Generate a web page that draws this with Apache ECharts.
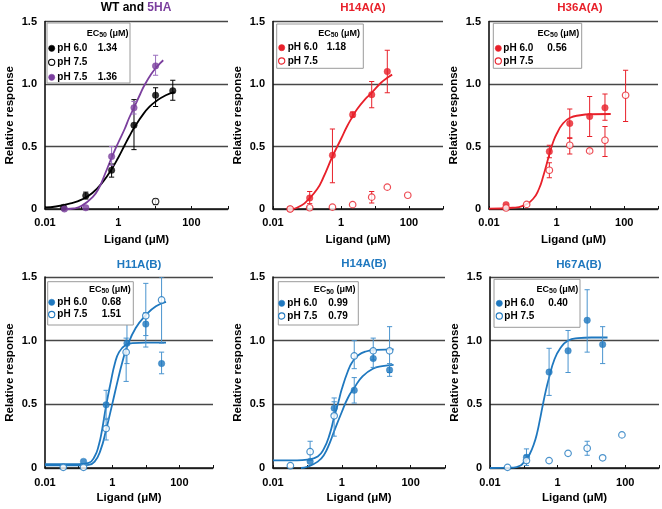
<!DOCTYPE html>
<html><head><meta charset="utf-8">
<script src="https://cdn.jsdelivr.net/npm/echarts@6/dist/echarts.min.js"></script>
<style>html,body{margin:0;padding:0;background:#fff}#c{width:662px;height:509px}</style>
</head><body><div id="c"></div>
<script>
// ---------- tick labels ----------
const xTickLabels = {'-2':'0.01','0':'1','2':'100'};
const yTicks = [0, 0.5, 1.0, 1.5];
const titles = ['WT and 5HA','H14A(A)','H36A(A)','H11A(B)','H14A(B)','H67A(B)'];
const legendLabels = ['pH 6.0','pH 7.5'];

// ---------- Panel 1: WT and 5HA ----------
const wt60 = [[0.032,0.013],[0.13,0.107],[0.66,0.31],[2.7,0.67],[10.5,0.91],[31,0.946]];
const wt60Err = [[0.13,0.08,0.135],[0.66,0.255,0.36],[2.7,0.475,0.875],[10.5,0.82,0.97],[31,0.87,1.03]];
const wt75 = [[10.5,0.06]];
const wt75Err = [[10.5,0.035,0.08]];
const ha75 = [[0.034,0.0],[0.13,0.01],[0.66,0.42],[2.7,0.81],[10.5,1.145]];
const ha75Err = [[0.66,0.35,0.5],[2.7,0.76,0.86],[10.5,1.07,1.23]];
const wt60Fit = [[0.01,0.012],[0.02,0.02],[0.05,0.045],[0.1,0.075],[0.2,0.13],[0.4,0.225],[0.7,0.33],[1,0.41],[1.5,0.51],[2,0.58],[3,0.67],[5,0.765],[7,0.815],[10,0.855],[20,0.91],[35,0.935]];
const ha75Fit = [[0.028,0.004],[0.04,0.0],[0.06,0.004],[0.1,0.025],[0.2,0.095],[0.3,0.17],[0.45,0.29],[0.66,0.41],[1,0.53],[1.5,0.64],[2,0.73],[2.7,0.81],[4,0.92],[5,0.98],[8,1.08],[12,1.145],[17,1.19]];
const ec50P1 = ['1.34','','1.36'];

// ---------- Panel 2: H14A(A) ----------
const h14a60 = [[0.032,0.0],[0.12,0.088],[0.56,0.43],[2.2,0.755],[8,0.915],[23,1.1]];
const h14a60Err = [[0.12,0.043,0.14],[0.56,0.21,0.64],[2.2,0.736,0.776],[8,0.81,1.02],[23,0.93,1.27]];
const h14a75 = [[0.032,0.0],[0.12,0.01],[0.56,0.015],[2.2,0.035],[8,0.095],[23,0.175],[92,0.11]];
const h14a75Err = [[8,0.048,0.14]];
const h14a60Fit = [[0.04,0.0],[0.07,0.03],[0.1,0.065],[0.2,0.16],[0.3,0.25],[0.56,0.42],[1,0.56],[1.5,0.66],[2.2,0.74],[3,0.8],[5,0.875],[8,0.93],[15,1.01],[23,1.05],[32,1.075]];
const ec50P2 = ['1.18',''];

// ---------- Panel 3: H36A(A) ----------
const h36a60 = [[0.032,0.035],[0.61,0.46],[2.45,0.685],[9.5,0.74],[27,0.81]];
const h36a60Err = [[0.61,0.41,0.51],[2.45,0.565,0.8],[9.5,0.58,0.9],[27,0.71,0.92]];
const h36a75 = [[0.032,0.008],[0.13,0.037],[0.61,0.31],[2.45,0.51],[9.5,0.465],[27,0.55],[110,0.91]];
const h36a75Err = [[0.61,0.25,0.37],[2.45,0.44,0.57],[9.5,0.45,0.48],[27,0.42,0.66],[110,0.7,1.11]];
const h36a60Fit = [[0.01,0.003],[0.05,0.01],[0.1,0.025],[0.2,0.08],[0.3,0.16],[0.4,0.26],[0.6,0.43],[0.8,0.54],[1,0.6],[1.5,0.68],[2.5,0.73],[5,0.75],[10,0.758],[40,0.76]];
const ec50P3 = ['0.56',''];

// ---------- Panel 4: H11A(B) ----------
const h11b60 = [[0.14,0.052],[0.66,0.496],[2.75,0.98],[10,1.13],[29.5,0.82]];
const h11b60Err = [[0.66,0.39,0.61],[2.75,0.82,1.14],[10,1.04,1.22],[29.5,0.74,0.91]];
const h11b75 = [[0.035,0.005],[0.14,0.005],[0.66,0.31],[2.6,0.91],[10,1.195],[29.5,1.32]];
const h11b75Err = [[0.66,0.22,0.38],[2.6,0.68,1.02],[10,0.95,1.45],[29.5,0.98,1.5]];
const h11b60Fit = [[0.01,0.03],[0.1,0.03],[0.2,0.04],[0.3,0.09],[0.4,0.18],[0.5,0.3],[0.66,0.49],[0.9,0.67],[1.2,0.82],[1.6,0.91],[2.5,0.965],[4,0.98],[10,0.985],[40,0.985]];
const h11b75Fit = [[0.01,0.02],[0.1,0.02],[0.2,0.025],[0.3,0.05],[0.45,0.14],[0.66,0.3],[1,0.5],[1.5,0.7],[2,0.83],[2.75,0.95],[5,1.1],[10,1.2],[20,1.27],[40,1.305]];
const ec50P4 = ['0.68','1.51'];

// ---------- Panel 5: H14A(B) ----------
const h14b60 = [[0.12,0.052],[0.6,0.47],[2.3,0.61],[8.2,0.86],[24.5,0.77]];
const h14b60Err = [[0.6,0.42,0.52],[2.3,0.51,0.71],[8.2,0.79,0.92],[24.5,0.72,0.82]];
const h14b75 = [[0.032,0.018],[0.12,0.128],[0.6,0.41],[2.3,0.88],[8.2,0.92],[24.5,0.92]];
const h14b75Err = [[0.12,0.06,0.21],[0.6,0.25,0.55],[2.3,0.78,1.0],[8.2,0.85,1.02],[24.5,0.75,1.11]];
const h14b60Fit = [[0.065,0.0],[0.1,0.01],[0.2,0.05],[0.3,0.1],[0.45,0.2],[0.6,0.29],[1,0.44],[1.5,0.55],[2.3,0.63],[4,0.72],[8,0.78],[15,0.8],[32,0.81]];
const h14b75Fit = [[0.01,0.06],[0.05,0.06],[0.1,0.065],[0.2,0.09],[0.3,0.15],[0.45,0.27],[0.6,0.4],[0.8,0.52],[1,0.62],[1.5,0.76],[2,0.83],[3,0.885],[5,0.915],[10,0.928],[32,0.932]];
const ec50P5 = ['0.99','0.79'];

// ---------- Panel 6: H67A(B) ----------
const h67b60 = [[0.12,0.084],[0.56,0.753],[2.04,0.92],[7.5,1.16],[21.5,0.97]];
const h67b60Err = [[0.12,0.04,0.15],[0.56,0.57,0.94],[2.04,0.75,1.08],[7.5,0.91,1.4],[21.5,0.82,1.11]];
const h67b75 = [[0.033,0.005],[0.12,0.058],[0.56,0.058],[2.04,0.115],[7.5,0.155],[21.5,0.08],[80,0.26]];
const h67b75Err = [[0.12,0.02,0.1],[7.5,0.1,0.21]];
const h67b60Fit = [[0.01,0.0],[0.05,0.003],[0.08,0.02],[0.1,0.045],[0.12,0.07],[0.15,0.11],[0.2,0.19],[0.25,0.28],[0.3,0.38],[0.35,0.47],[0.45,0.61],[0.56,0.71],[0.8,0.85],[1.2,0.94],[2,1.0],[4,1.02],[10,1.025],[30,1.025]];
const ec50P6 = ['0.40',''];

// ---------- styling ----------
const FONT = 'Arial, "Liberation Sans", sans-serif';
const BLACK = '#000000', PURPLE = '#7b3f9e', RED = '#e8202a', BLUE = '#1f78bf';
const PURPLE_ERR = '#9a6fbf', RED_ERR = '#e8202a', BLUE_ERR = '#4a94cf', BLACK_ERR = '#000';

const panels = [
  { grid:{left:45,top:21.5,width:183,height:187.5}, title:{x:136,y:7.5,rich:true},
    fits:[{d:wt60Fit,c:BLACK},{d:ha75Fit,c:PURPLE}],
    errs:[{d:wt60Err,c:BLACK_ERR},{d:wt75Err,c:BLACK_ERR},{d:ha75Err,c:PURPLE_ERR}],
    pts:[{d:wt60,c:BLACK,open:false},{d:wt75,c:BLACK,open:true},{d:ha75,c:PURPLE,open:false}],
    box:{x:47,y:23,w:83,h:60, hx:128.5, hy:33.3, mx:51.7, tx:57.3, vx:97.7,
         rows:[{y:48.3,c:BLACK,open:false,l:legendLabels[0],v:ec50P1[0]},
               {y:62.3,c:BLACK,open:true,l:legendLabels[1],v:ec50P1[1]},
               {y:77.3,c:PURPLE,open:false,l:legendLabels[1],v:ec50P1[2]}]} },
  { grid:{left:273,top:21.5,width:170,height:187.5}, title:{x:363,y:7.5,c:RED},
    fits:[{d:h14a60Fit,c:RED}],
    errs:[{d:h14a60Err,c:RED_ERR},{d:h14a75Err,c:RED_ERR}],
    pts:[{d:h14a60,c:RED,open:false},{d:h14a75,c:RED,open:true}],
    box:{x:276.7,y:24,w:86.6,h:44.3, hx:360, hy:33.3, mx:281.7, tx:287.7, vx:326.7,
         rows:[{y:47.7,c:RED,open:false,l:legendLabels[0],v:ec50P2[0]},
               {y:61,c:RED,open:true,l:legendLabels[1],v:ec50P2[1]}]} },
  { grid:{left:489,top:21.5,width:169,height:187.5}, title:{x:580,y:7.5,c:RED},
    fits:[{d:h36a60Fit,c:RED}],
    errs:[{d:h36a60Err,c:RED_ERR},{d:h36a75Err,c:RED_ERR}],
    pts:[{d:h36a60,c:RED,open:false},{d:h36a75,c:RED,open:true}],
    box:{x:493.3,y:23.3,w:88.4,h:45, hx:579.3, hy:33.3, mx:498.3, tx:503.3, vx:547.3,
         rows:[{y:48.3,c:RED,open:false,l:legendLabels[0],v:ec50P3[0]},
               {y:61,c:RED,open:true,l:legendLabels[1],v:ec50P3[1]}]} },
  { grid:{left:45,top:277,width:168,height:191}, title:{x:139,y:265,c:BLUE},
    fits:[{d:h11b60Fit,c:BLUE},{d:h11b75Fit,c:BLUE}],
    errs:[{d:h11b60Err,c:BLUE_ERR},{d:h11b75Err,c:BLUE_ERR}],
    pts:[{d:h11b60,c:BLUE,open:false},{d:h11b75,c:BLUE,open:true}],
    box:{x:47.7,y:281.7,w:85.6,h:43.3, hx:130.7, hy:289.3, mx:51.7, tx:57.3, vx:101.7,
         rows:[{y:302.3,c:BLUE,open:false,l:legendLabels[0],v:ec50P4[0]},
               {y:314.5,c:BLUE,open:true,l:legendLabels[1],v:ec50P4[1]}]} },
  { grid:{left:273,top:277,width:172,height:191}, title:{x:364,y:264,c:BLUE},
    fits:[{d:h14b60Fit,c:BLUE},{d:h14b75Fit,c:BLUE}],
    errs:[{d:h14b60Err,c:BLUE_ERR},{d:h14b75Err,c:BLUE_ERR}],
    pts:[{d:h14b60,c:BLUE,open:false},{d:h14b75,c:BLUE,open:true}],
    box:{x:278.3,y:281.7,w:80,h:43.3, hx:355.5, hy:290, mx:281.7, tx:287.3, vx:328.3,
         rows:[{y:303.3,c:BLUE,open:false,l:legendLabels[0],v:ec50P5[0]},
               {y:316,c:BLUE,open:true,l:legendLabels[1],v:ec50P5[1]}]} },
  { grid:{left:490,top:277,width:170,height:191}, title:{x:579,y:265,c:BLUE},
    fits:[{d:h67b60Fit,c:BLUE}],
    errs:[{d:h67b60Err,c:BLUE_ERR},{d:h67b75Err,c:BLUE_ERR}],
    pts:[{d:h67b60,c:BLUE,open:false},{d:h67b75,c:BLUE,open:true}],
    box:{x:494,y:279.3,w:86,h:48, hx:578.3, hy:289.3, mx:499.3, tx:504.3, vx:548.3,
         rows:[{y:303.3,c:BLUE,open:false,l:legendLabels[0],v:ec50P6[0]},
               {y:316,c:BLUE,open:true,l:legendLabels[1],v:ec50P6[1]}]} }
];

function renderErr(params, api){
  const x = api.value(0), lo = api.value(1), hi = api.value(2);
  const p1 = api.coord([x, lo]), p2 = api.coord([x, hi]);
  const w = 2.6;
  const style = {stroke: api.visual('color'), lineWidth: 1};
  return {type:'group', children:[
    {type:'line', shape:{x1:p1[0],y1:p1[1],x2:p2[0],y2:p2[1]}, style:style},
    {type:'line', shape:{x1:p1[0]-w,y1:p1[1],x2:p1[0]+w,y2:p1[1]}, style:style},
    {type:'line', shape:{x1:p2[0]-w,y1:p2[1],x2:p2[0]+w,y2:p2[1]}, style:style}
  ]};
}

const grid = [], xAxis = [], yAxis = [], series = [], graphic = [];
panels.forEach(function(p, i){
  grid.push(p.grid);
  xAxis.push({
    type:'log', logBase:10, min:0.01, max:1000, gridIndex:i, splitNumber:5,
    axisLine:{show:true, lineStyle:{color:'#111', width:1.5}},
    axisTick:{show:true, inside:true, length:3, lineStyle:{color:'#111', width:1}},
    splitLine:{show:false}, minorTick:{show:false},
    axisLabel:{margin: i<3 ? 8 : 9, color:'#000', fontFamily:FONT, fontWeight:'bold', fontSize:11,
      formatter:function(v){ const e = Math.round(Math.log10(v)); return xTickLabels[String(e)] || ''; }},
    name:'Ligand (μM)', nameLocation:'middle', nameGap: i<3 ? 25 : 24,
    nameTextStyle:{color:'#000', fontFamily:FONT, fontWeight:'bold', fontSize:11.5}
  });
  yAxis.push({
    type:'value', min:0, max:1.5, interval:0.5, gridIndex:i,
    axisLine:{show:true, lineStyle:{color:'#111', width:1.6}},
    axisTick:{show:false},
    splitLine:{show:true, lineStyle:{color:'#474747', width:1.3}},
    axisLabel:{margin:8, color:'#000', fontFamily:FONT, fontWeight:'bold', fontSize:11,
      formatter:function(v){ return v===0 ? '0' : v.toFixed(1); }},
    name:'Relative response', nameLocation:'middle', nameGap:29,
    nameTextStyle:{color:'#000', fontFamily:FONT, fontWeight:'bold', fontSize:11.5}
  });
  p.fits.forEach(function(f){
    series.push({type:'line', xAxisIndex:i, yAxisIndex:i, data:f.d, smooth:0.5,
      showSymbol:false, symbol:'none', lineStyle:{color:f.c, width:1.8}, z:2, silent:true});
  });
  p.errs.forEach(function(e){
    series.push({type:'custom', xAxisIndex:i, yAxisIndex:i, data:e.d, renderItem:renderErr,
      encode:{x:0, y:[1,2]}, itemStyle:{color:e.c}, z:3, clip:true, silent:true});
  });
  p.pts.forEach(function(s){
    series.push({type:'scatter', xAxisIndex:i, yAxisIndex:i, data:s.d, symbol:'circle', symbolSize:6.5,
      itemStyle: s.open ? {color:'#fff', borderColor:s.c, borderWidth:1.2} : {color:s.c, borderColor:s.c, borderWidth:0.5},
      z:4, silent:true});
  });
  // title
  if (p.title.rich) {
    graphic.push({type:'text', x:p.title.x, y:p.title.y, z:100, style:{
      text:'{a|WT and }{b|5HA}', align:'center', verticalAlign:'middle',
      rich:{a:{fill:'#000', fontFamily:FONT, fontWeight:'bold', fontSize:12},
            b:{fill:PURPLE, fontFamily:FONT, fontWeight:'bold', fontSize:12}}}});
  } else {
    graphic.push({type:'text', x:p.title.x, y:p.title.y, z:100, style:{
      text:titles[i], align:'center', verticalAlign:'middle', fill:p.title.c,
      fontFamily:FONT, fontWeight:'bold', fontSize:11.5}});
  }
  // legend box
  const b = p.box;
  graphic.push({type:'rect', shape:{x:b.x, y:b.y, width:b.w, height:b.h}, z:100,
    style:{fill:'#fff', stroke:'#9a9a9a', lineWidth:1}});
  graphic.push({type:'text', x:b.hx, y:b.hy, z:101, style:{
    text:'{n|EC}{s|50}{n| (μM)}', align:'right', verticalAlign:'middle',
    rich:{n:{fill:'#000', fontFamily:FONT, fontWeight:'bold', fontSize:9, lineHeight:11},
          s:{fill:'#000', fontFamily:FONT, fontWeight:'bold', fontSize:7, lineHeight:11, verticalAlign:'bottom'}}}});
  b.rows.forEach(function(r){
    graphic.push({type:'circle', shape:{cx:b.mx, cy:r.y, r:3.1}, z:101,
      style: r.open ? {fill:'#fff', stroke:r.c, lineWidth:1.1} : {fill:r.c, stroke:r.c, lineWidth:0.5}});
    graphic.push({type:'text', x:b.tx, y:r.y, z:101, style:{text:r.l, align:'left', verticalAlign:'middle',
      fill:'#000', fontFamily:FONT, fontWeight:'bold', fontSize:10}});
    if (r.v) graphic.push({type:'text', x:b.vx, y:r.y, z:101, style:{text:r.v, align:'left', verticalAlign:'middle',
      fill:'#000', fontFamily:FONT, fontWeight:'bold', fontSize:10}});
  });
});

const chart = echarts.init(document.getElementById('c'), null, {renderer:'canvas'});
chart.setOption({animation:false, backgroundColor:'#fff', grid:grid, xAxis:xAxis, yAxis:yAxis, series:series, graphic:graphic});
</script></body></html>
